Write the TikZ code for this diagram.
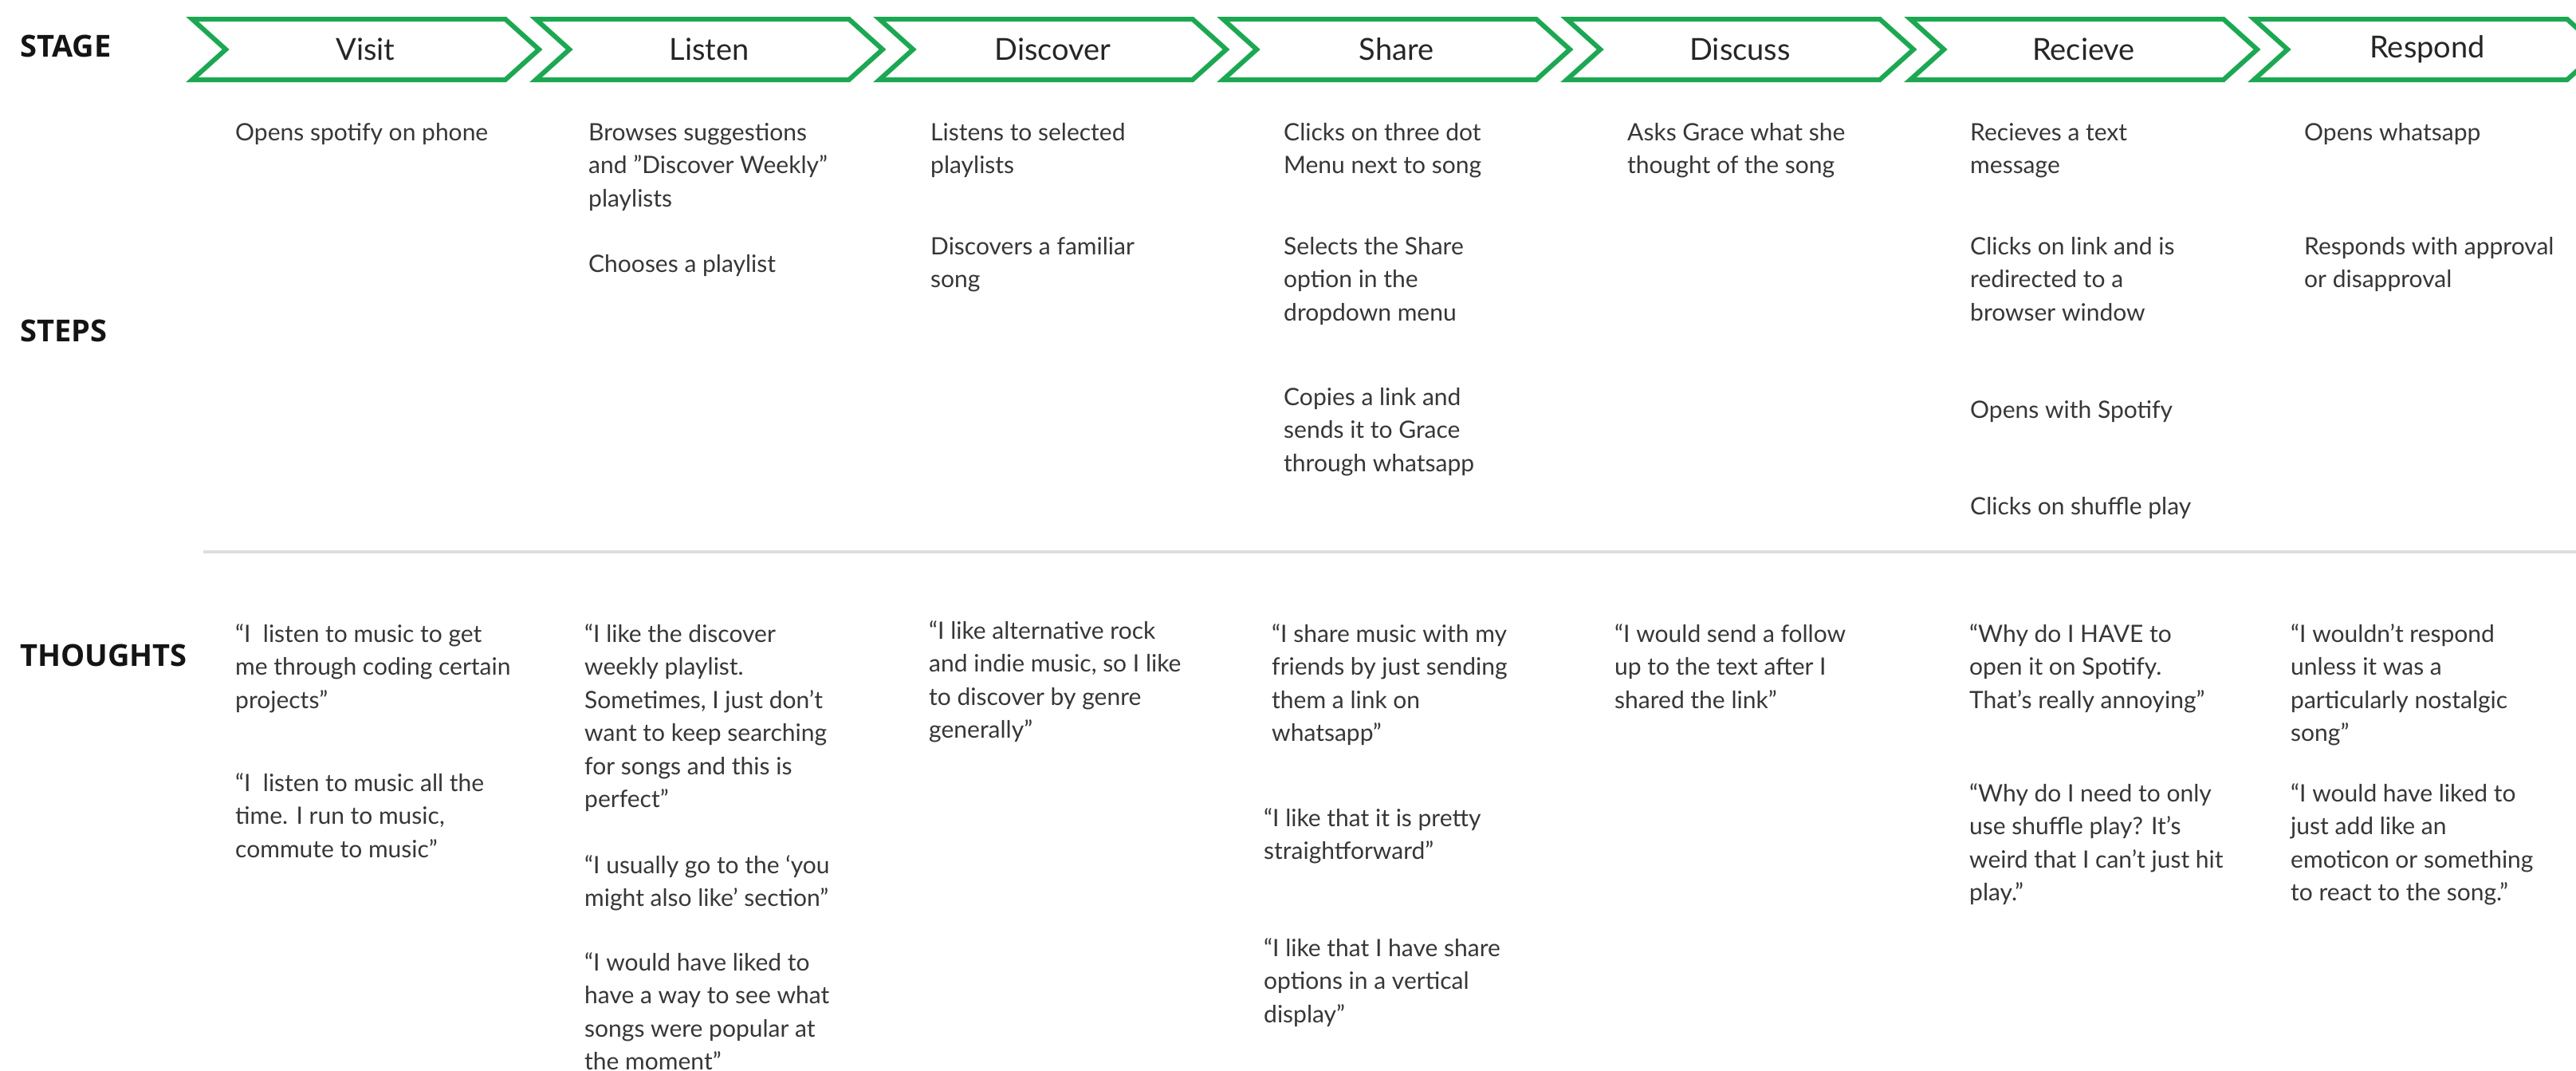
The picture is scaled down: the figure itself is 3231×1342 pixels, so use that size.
\documentclass[tikz,border=0pt]{standalone}
\usepackage{fontspec}
\setmainfont{Lato}
\newfontfamily\lblfont{Open Sans}
\usetikzlibrary{shapes.symbols}
\definecolor{spgreen}{RGB}{28,168,82}
\definecolor{txtgray}{RGB}{55,55,55}
\definecolor{sepgray}{RGB}{222,222,222}
\begin{document}
\begin{tikzpicture}[x=1pt,y=-1pt,
  stagebox/.style={signal, signal to=east, signal from=west, signal pointer angle=84,
    draw=spgreen, line width=6pt, minimum width=435pt, minimum height=76pt,
    inner sep=0pt, font=\fontsize{38}{44}\selectfont, text=black!85},
  rowlabel/.style={anchor=west, inner sep=0pt,
    font=\lblfont\bfseries\fontsize{38}{44}\selectfont, text=black!92},
  txt/.style={anchor=north west, inner sep=0pt, align=left,
    font=\fontsize{30}{41.5}\selectfont, text=txtgray},
  sepline/.style={draw=sepgray, line width=4pt}
]
\useasboundingbox (0,0) rectangle (3231,1342);
\fill[white] (0,0) rectangle (3231,1342);

% row labels
\node[rowlabel] (lstage) at (25,58) {STAGE};
\node[rowlabel] (lsteps) at (25,415) {STEPS};
\node[rowlabel] (lthoughts) at (25,822) {THOUGHTS};

% stages
\node[stagebox] (visit)    at (458.5,62)  {Visit};
\node[stagebox] (listen)   at (889.5,62)  {Listen};
\node[stagebox] (discover) at (1320.5,62) {Discover};
\node[stagebox] (share)    at (1751.5,62) {Share};
\node[stagebox] (discuss)  at (2182.5,62) {Discuss};
\node[stagebox] (recieve)  at (2613.5,62) {Recieve};
\node[stagebox] (respond)  at (3044.5,62) {Respond};

% steps
\node[txt] (s1a) at (295,147) {\strut Opens spotify on phone};

\node[txt] (s2a) at (738,147) {\strut Browses suggestions\\and "Discover Weekly"\\playlists};
\node[txt] (s2b) at (738,312) {\strut Chooses a playlist};

\node[txt] (s3a) at (1167,147) {\strut Listens to selected\\playlists};
\node[txt] (s3b) at (1167,290) {\strut Discovers a familiar\\song};

\node[txt] (s4a) at (1610,147) {\strut Clicks on three dot\\Menu next to song};
\node[txt] (s4b) at (1610,290) {\strut Selects the Share\\option in the\\dropdown menu};
\node[txt] (s4c) at (1610,479) {\strut Copies a link and\\sends it to Grace\\through whatsapp};

\node[txt] (s5a) at (2041,147) {\strut Asks Grace what she\\thought of the song};

\node[txt] (s6a) at (2471,147) {\strut Recieves a text\\message};
\node[txt] (s6b) at (2471,290) {\strut Clicks on link and is\\redirected to a\\browser window};
\node[txt] (s6c) at (2471,495) {\strut Opens with Spotify};
\node[txt] (s6d) at (2471,616) {\strut Clicks on shuffle play};

\node[txt] (s7a) at (2890,147) {\strut Opens whatsapp};
\node[txt] (s7b) at (2890,290) {\strut Responds with approval\\or disapproval};

% separator
\coordinate (sepL) at (255,692);
\coordinate (sepR) at (3231,692);
\draw[sepline] (sepL) -- (sepR);

% thoughts
\node[txt] (t1a) at (295,776) {\strut “I\ \ listen to music to get\\me through coding certain\\projects”};
\node[txt] (t1b) at (295,963) {\strut “I\ \ listen to music all the\\time. I run to music,\\commute to music”};

\node[txt] (t2a) at (733,776) {\strut “I like the discover\\weekly playlist.\\Sometimes, I just don’t\\want to keep searching\\for songs and this is\\perfect”};
\node[txt] (t2b) at (733,1066) {\strut “I usually go to the ‘you\\might also like’ section”};
\node[txt] (t2c) at (733,1188) {\strut “I would have liked to\\have a way to see what\\songs were popular at\\the moment”};

\node[txt] (t3a) at (1165,772) {\strut “I like alternative rock\\and indie music, so I like\\to discover by genre\\generally”};

\node[txt] (t4a) at (1595,776) {\strut “I share music with my\\friends by just sending\\them a link on\\whatsapp”};
\node[txt] (t4b) at (1585,1007) {\strut “I like that it is pretty\\straightforward”};
\node[txt] (t4c) at (1585,1170) {\strut “I like that I have share\\options in a vertical\\display”};

\node[txt] (t5a) at (2025,776) {\strut “I would send a follow\\up to the text after I\\shared the link”};

\node[txt] (t6a) at (2470,776) {\strut “Why do I HAVE to\\open it on Spotify.\\That’s really annoying”};
\node[txt] (t6b) at (2470,976) {\strut “Why do I need to only\\use shuffle play? It’s\\weird that I can’t just hit\\play.”};

\node[txt] (t7a) at (2873,776) {\strut “I wouldn’t respond\\unless it was a\\particularly nostalgic\\song”};
\node[txt] (t7b) at (2873,976) {\strut “I would have liked to\\just add like an\\emoticon or something\\to react to the song.”};
\end{tikzpicture}
\end{document}
